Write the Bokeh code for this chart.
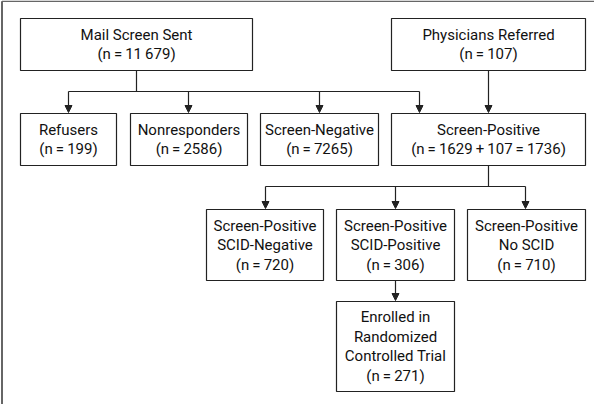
from bokeh.plotting import figure
from bokeh.models import Range1d, Arrow, NormalHead
from bokeh.core.properties import value
from bokeh.embed import file_html
from bokeh.resources import INLINE

T = "\u2009"
# node labels and counts
node_names = ["mail", "phys", "ref", "nonr", "sneg", "spos", "scneg", "scpos", "nosc", "enr"]
node_titles = [
    ["Mail Screen Sent"],
    ["Physicians Referred"],
    ["Refusers"],
    ["Nonresponders"],
    ["Screen-Negative"],
    ["Screen-Positive"],
    ["Screen-Positive", "SCID-Negative"],
    ["Screen-Positive", "SCID-Positive"],
    ["Screen-Positive", "No SCID"],
    ["Enrolled in", "Randomized", "Controlled Trial"],
]
node_counts = [
    "11" + T + "679",
    "107",
    "199",
    "2586",
    "7265",
    "1629" + T + "+" + T + "107" + T + "=" + T + "1736",
    "720",
    "306",
    "710",
    "271",
]

# layout (pixel positions of boxes: left, right, top, bottom)
layout = {
    "mail": (28, 260, 26, 78),
    "phys": (399, 593, 26, 78),
    "ref": (28, 124, 121, 173),
    "nonr": (138, 255, 121, 173),
    "sneg": (268, 386, 121, 173),
    "spos": (399, 593, 121, 173),
    "scneg": (214, 331, 217, 288),
    "scpos": (344, 462, 217, 288),
    "nosc": (475, 593, 217, 288),
    "enr": (344, 462, 309, 399),
}

W, H = 594, 404
p = figure(width=W, height=H, output_backend="svg", toolbar_location=None,
           x_range=Range1d(8, 8 + W), y_range=Range1d(8 + H, 8),
           min_border=0, outline_line_color=None)
p.axis.visible = False
p.grid.visible = False
p.background_fill_color = "white"
p.border_fill_color = "white"

FONT = value("Roboto")
LC = "#222222"

# outer frame (top and left)
p.line([9.5, 9.5], [412, 8.8], line_color="#666666", line_width=2)
p.line([9.5, 602], [8.8, 8.8], line_color="#666666", line_width=1.5)

# boxes
L = [layout[n][0] for n in node_names]
R = [layout[n][1] for n in node_names]
Tp = [layout[n][2] for n in node_names]
B = [layout[n][3] for n in node_names]
p.quad(left=L, right=R, top=Tp, bottom=B, fill_color="white",
       line_color=LC, line_width=1.2)

# text
xs, ys, txt = [], [], []
spacing = 19.5
for n, titles, cnt in zip(node_names, node_titles, node_counts):
    l, r, t, b = layout[n]
    lines = titles + ["(n" + T + "=" + T + cnt + ")"]
    cx = (l + r) / 2
    cy = (t + b) / 2
    k = len(lines)
    for i, s in enumerate(lines):
        xs.append(cx)
        ys.append(cy + (i - (k - 1) / 2) * spacing)
        txt.append(s)
p.text(x=xs, y=ys, text=txt, text_align="center", text_baseline="middle",
       text_font=FONT, text_font_size="15px", text_color="#111111")

# connectors
def seg(x0, y0, x1, y1):
    p.line([x0, x1], [y0, y1], line_color=LC, line_width=1.2)

def arrow(x, y0, y1):
    p.add_layout(Arrow(end=NormalHead(size=7, fill_color=LC, line_color=LC, line_width=1),
                       x_start=x, y_start=y0, x_end=x, y_end=y1,
                       line_color=LC, line_width=1.2))

# from Mail Screen Sent
seg(144, 78, 144, 99)
seg(76, 99, 427, 99)
for x in [76, 196, 327, 427]:
    arrow(x, 99, 120)
# from Physicians Referred
arrow(496, 78, 120)
# from Screen-Positive
seg(496, 173, 496, 194)
seg(273, 194, 533, 194)
for x in [273, 403, 533]:
    arrow(x, 194, 216)
# to enrolled
arrow(403, 288, 308)

open("out.html", "w").write(file_html(p, INLINE))
